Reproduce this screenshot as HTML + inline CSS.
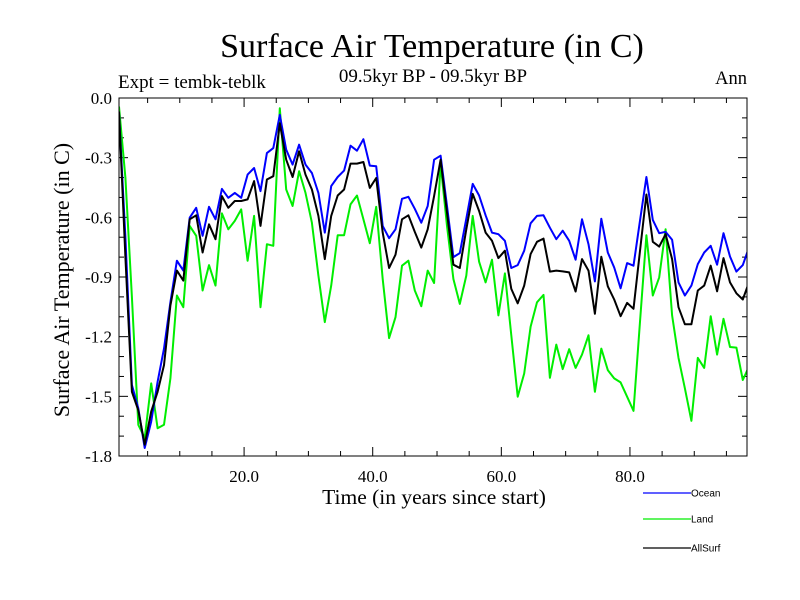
<!DOCTYPE html>
<html><head><meta charset="utf-8">
<style>
html,body{margin:0;padding:0;background:#fff;}
svg{display:block;}
text{font-family:"Liberation Serif",serif;fill:#000;}
.leg{font-family:"Liberation Sans",sans-serif;font-size:10px;}
</style></head>
<body>
<svg id="chart" width="800" height="600" viewBox="0 0 800 600" xmlns="http://www.w3.org/2000/svg">
<text x="432" y="57" font-size="34" text-anchor="middle">Surface Air Temperature (in C)</text>
<text x="118" y="88" font-size="19">Expt = tembk-teblk</text>
<text x="433" y="82" font-size="19" text-anchor="middle">09.5kyr BP - 09.5kyr BP</text>
<text x="747" y="84" font-size="18.5" text-anchor="end">Ann</text>
<text x="0" y="0" font-size="22" text-anchor="middle" transform="translate(69,280) rotate(-90)">Surface Air Temperature (in C)</text>
<text x="434" y="504" font-size="21.5" text-anchor="middle">Time (in years since start)</text>
<defs><clipPath id="pc"><rect x="119" y="90" width="628" height="375"/></clipPath></defs>
<g id="axes"></g>
<g id="series" clip-path="url(#pc)"></g>
<rect x="119" y="98" width="628" height="358" fill="none" stroke="#000" stroke-width="1"/>
<g id="legend"></g>
</svg>
<script>
const seriesNames = ["Ocean","Land","AllSurf"];
const seriesColors = ["#0000ff","#00ee00","#000000"];
const yTickLabels = ["0.0","-0.3","-0.6","-0.9","-1.2","-1.5","-1.8"];
const yTickValues = [0,-0.3,-0.6,-0.9,-1.2,-1.5,-1.8];
const xTickLabels = ["20.0","40.0","60.0","80.0"];
const xTickValues = [20,40,60,80];
const ocean = [-0.077,-0.70,-1.443,-1.56,-1.76,-1.627,-1.427,-1.26,-1.027,-0.818,-0.868,-0.602,-0.552,-0.693,-0.547,-0.61,-0.457,-0.502,-0.477,-0.502,-0.385,-0.352,-0.468,-0.277,-0.252,-0.085,-0.26,-0.335,-0.235,-0.335,-0.377,-0.477,-0.677,-0.443,-0.397,-0.365,-0.24,-0.265,-0.207,-0.34,-0.343,-0.643,-0.705,-0.66,-0.507,-0.497,-0.557,-0.627,-0.543,-0.31,-0.29,-0.543,-0.8,-0.78,-0.607,-0.432,-0.49,-0.59,-0.677,-0.685,-0.718,-0.855,-0.84,-0.768,-0.63,-0.593,-0.59,-0.652,-0.71,-0.667,-0.718,-0.813,-0.61,-0.735,-0.922,-0.607,-0.777,-0.852,-0.957,-0.83,-0.843,-0.62,-0.397,-0.613,-0.68,-0.673,-0.713,-0.927,-0.993,-0.943,-0.835,-0.777,-0.743,-0.838,-0.68,-0.797,-0.873,-0.84,-0.747];
const land = [-0.043,-0.40,-1.0,-1.643,-1.71,-1.435,-1.66,-1.643,-1.41,-0.993,-1.052,-0.643,-0.693,-0.968,-0.84,-0.943,-0.58,-0.66,-0.618,-0.56,-0.818,-0.593,-1.052,-0.735,-0.743,-0.052,-0.46,-0.543,-0.368,-0.477,-0.627,-0.893,-1.127,-0.943,-0.69,-0.69,-0.535,-0.49,-0.61,-0.73,-0.547,-0.91,-1.207,-1.102,-0.843,-0.818,-0.968,-1.047,-0.868,-0.93,-0.33,-0.643,-0.91,-1.035,-0.893,-0.593,-0.823,-0.927,-0.813,-1.093,-0.882,-1.193,-1.502,-1.385,-1.15,-1.027,-0.99,-1.407,-1.24,-1.363,-1.263,-1.357,-1.29,-1.193,-1.477,-1.26,-1.368,-1.41,-1.43,-1.502,-1.573,-1.132,-0.69,-0.993,-0.902,-0.66,-1.093,-1.307,-1.46,-1.623,-1.307,-1.357,-1.097,-1.29,-1.11,-1.252,-1.255,-1.418,-1.347];
const allsurf = [-0.068,-0.80,-1.477,-1.57,-1.743,-1.577,-1.477,-1.343,-1.043,-0.868,-0.918,-0.61,-0.59,-0.777,-0.635,-0.71,-0.493,-0.552,-0.518,-0.518,-0.51,-0.418,-0.643,-0.41,-0.393,-0.127,-0.31,-0.397,-0.268,-0.385,-0.46,-0.593,-0.81,-0.593,-0.49,-0.46,-0.33,-0.33,-0.322,-0.452,-0.402,-0.677,-0.855,-0.788,-0.61,-0.59,-0.673,-0.752,-0.66,-0.493,-0.31,-0.577,-0.838,-0.855,-0.66,-0.482,-0.568,-0.677,-0.718,-0.805,-0.768,-0.96,-1.032,-0.943,-0.785,-0.723,-0.707,-0.873,-0.868,-0.872,-0.877,-0.973,-0.81,-0.868,-1.085,-0.798,-0.947,-1.013,-1.097,-1.03,-1.06,-0.773,-0.485,-0.723,-0.747,-0.685,-0.81,-1.052,-1.138,-1.138,-0.968,-0.943,-0.843,-0.972,-0.805,-0.927,-0.982,-1.013,-0.922];
const startYear = 0.55;

const NS="http://www.w3.org/2000/svg";
const L=119,R=747,T=98,B=456;
const xMin=0.55,xMax=98.2,yMin=-1.8,yMax=0;
const xs=v=>L+(v-xMin)/(xMax-xMin)*(R-L);
const ys=v=>T+(yMax-v)/(yMax-yMin)*(B-T);
function mk(tag,attrs,parent){const e=document.createElementNS(NS,tag);for(const k in attrs)e.setAttribute(k,attrs[k]);parent.appendChild(e);return e;}
const axes=document.getElementById('axes');
for(let v=0;v<=18;v++){
  const val=-v/10, y=ys(val), major=v%3===0, len=major?9:5;
  const t1=mk('line',{x1:L,x2:L+len,y1:y,y2:y,stroke:'#000','stroke-width':1},axes);
  
  
  const t2=mk('line',{x1:R,x2:R-len,y1:y,y2:y,stroke:'#000','stroke-width':1},axes);
  
  
}
yTickValues.forEach((v,i)=>{
  const t=mk('text',{x:L-7,y:ys(v)+6,'font-size':17,'text-anchor':'end'},axes);
  t.textContent=yTickLabels[i];
  
  
});
for(let v=5;v<=95;v+=5){
  const x=xs(v), major=v%20===0, len=major?9:5;
  const t1=mk('line',{x1:x,x2:x,y1:B,y2:B-len,stroke:'#000','stroke-width':1},axes);
  
  
  const t2=mk('line',{x1:x,x2:x,y1:T,y2:T+len,stroke:'#000','stroke-width':1},axes);
  
  
}
xTickValues.forEach((v,i)=>{
  const t=mk('text',{x:xs(v),y:B+26,'font-size':17,'text-anchor':'middle'},axes);
  t.textContent=xTickLabels[i];
  
  
});
const sg=document.getElementById('series');
const drawOrder=[[land,1],[ocean,0],[allsurf,2]];
drawOrder.forEach(([arr,k])=>{
  const pts=arr.map((v,i)=>xs(startYear+i).toFixed(1)+','+ys(v).toFixed(1)).join(' ');
  const p=mk('polyline',{points:pts,fill:'none',stroke:seriesColors[k],'stroke-width':2,'stroke-linejoin':'round'},sg);
  
  
});
const lg=document.getElementById('legend');
const legY=[493,519,548];
seriesNames.forEach((n,k)=>{
  const l=mk('line',{x1:643,x2:691,y1:legY[k],y2:legY[k],stroke:seriesColors[k],'stroke-width':1.2},lg);
  
  
  const t=mk('text',{x:691,y:legY[k]+3.5,class:'leg'},lg);
  t.textContent=n;
  
  
});
</script>
</body></html>
